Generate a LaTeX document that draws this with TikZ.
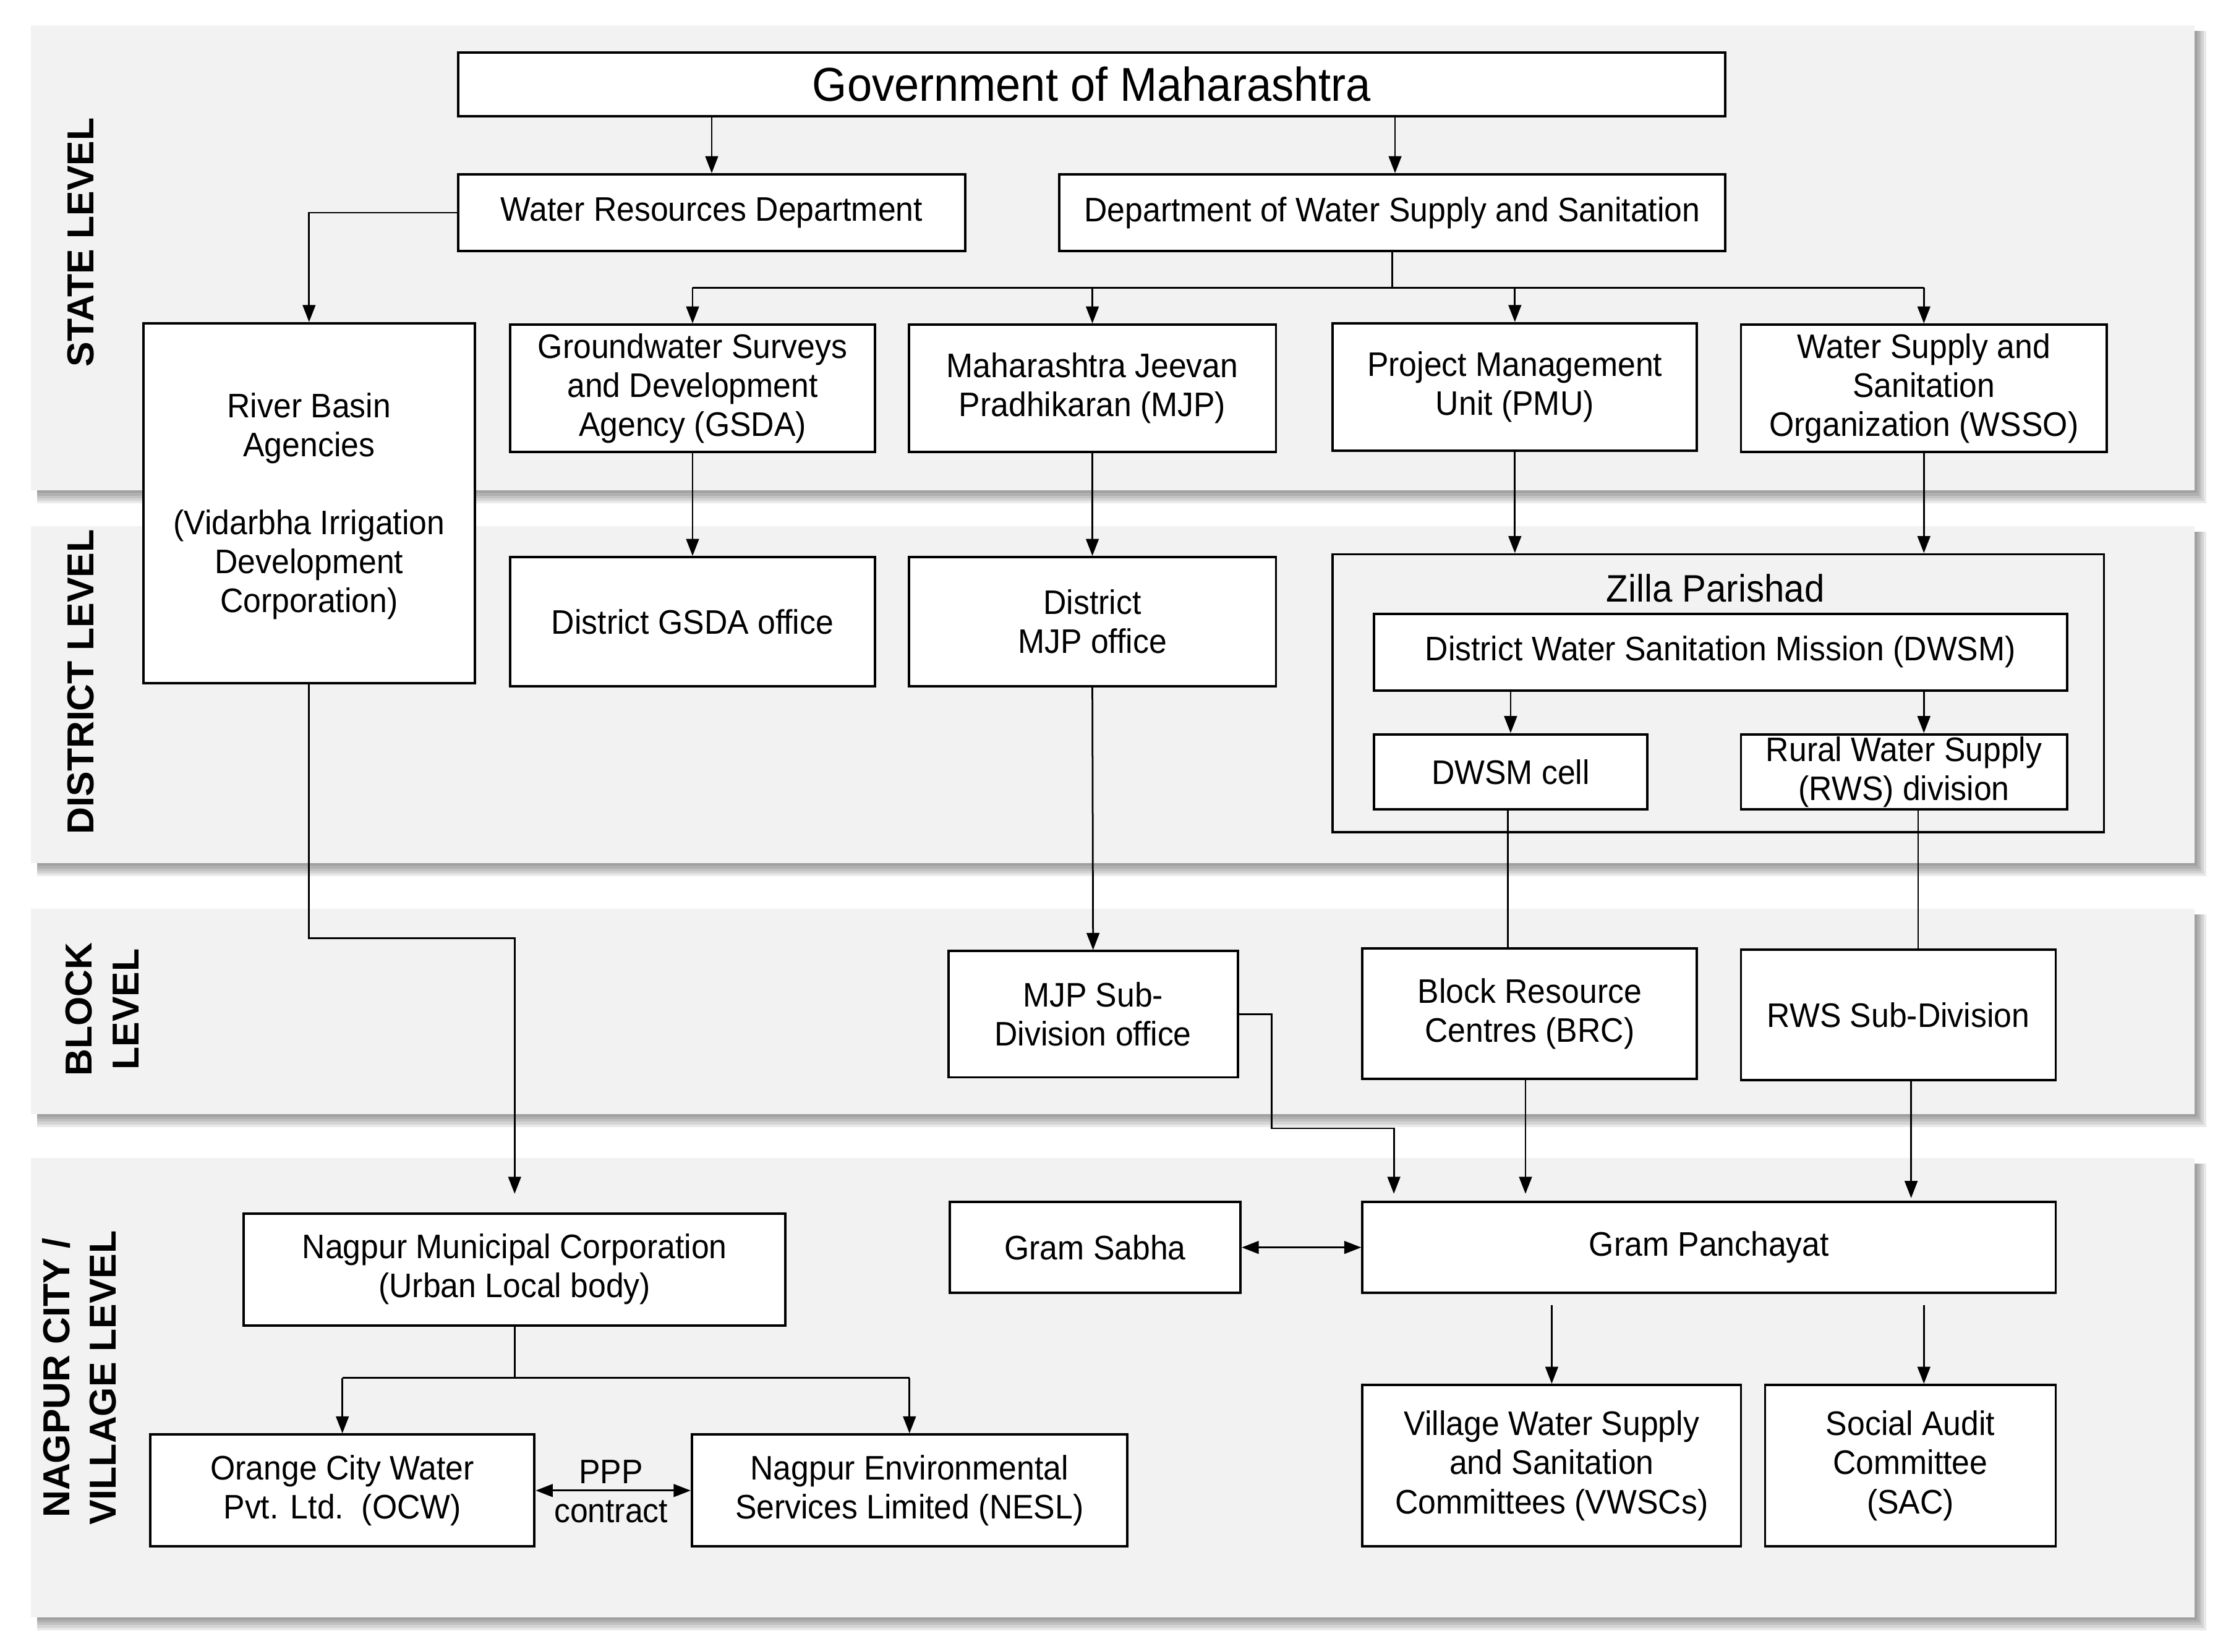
\documentclass[tikz,border=0pt]{standalone}
\usepackage{fontspec}
\setmainfont{Liberation Sans}[FakeStretch=0.94]
\newfontfamily\lblfont{Liberation Sans}
\usetikzlibrary{arrows.meta,calc}
\definecolor{bandgray}{HTML}{F2F2F2}
\tikzset{
  box/.style={draw=black, line width=1.7pt, fill=white, inner sep=0pt, align=center,
    font=\fontsize{24}{27.5}\selectfont},
  conn/.style={draw=black, line width=1.2pt},
  arr/.style={conn, -{Triangle[length=12pt,width=9pt]}},
  darr/.style={conn, {Triangle[length=12pt,width=9pt]}-{Triangle[length=12pt,width=9pt]}},
  lvl/.style={rotate=90, align=center, inner sep=0pt,
    font=\lblfont\bfseries\fontsize{26.5}{33}\selectfont},
  plain/.style={align=center, inner sep=0pt, font=\fontsize{24}{27.5}\selectfont}
}
\newcommand\myband[2]{%
  \foreach \k in {2,4,6,8,10}{\fill[black, opacity=0.085] (26,#1+4) rectangle (1548+\k*0.8,#2+\k*0.9);}
  \fill[bandgray] (22,#1) rectangle (1548,#2);
}
\begin{document}
\begin{tikzpicture}[x=1pt,y=-1pt]
\useasboundingbox (0,0) rectangle (1568,1165);
\fill[white] (0,0) rectangle (1568,1165);
% bands
\myband{18}{346}
\myband{371}{609}
\myband{641}{786}
\myband{817}{1141}
% level labels
\node[lvl] (lstate) at (57,171) {STATE LEVEL};
\node[lvl] (ldist) at (57,481) {DISTRICT LEVEL};
\node[lvl] (lblock) at (72,712) {BLOCK\\LEVEL};
\node[lvl] (lvill) at (56,972) {NAGPUR CITY /\\VILLAGE LEVEL};
% boxes
\node[box, minimum width=894pt, minimum height=45pt, font=\fontsize{33.5}{38}\selectfont] (gov) at (770,59.5) {Government of Maharashtra};
\node[box, minimum width=358pt, minimum height=54pt] (wrd) at (502,150) {Water Resources Department};
\node[box, minimum width=470pt, minimum height=54pt] (dwss) at (982,150) {Department of Water Supply and Sanitation};
\node[box, minimum width=234pt, minimum height=254pt] (rba) at (218,355) {};
\node[plain] (rbat) at (218,357) {River Basin\\Agencies\\[27.5pt](Vidarbha Irrigation\\Development\\Corporation)};
\node[box, minimum width=257pt, minimum height=90pt] (gsda) at (488.5,274) {Groundwater Surveys\\and Development\\Agency (GSDA)};
\node[box, minimum width=259pt, minimum height=90pt] (mjp) at (770.5,274) {Maharashtra Jeevan\\Pradhikaran (MJP)};
\node[box, minimum width=257pt, minimum height=90pt] (pmu) at (1068.5,273) {Project Management\\Unit (PMU)};
\node[box, minimum width=258pt, minimum height=90pt] (wsso) at (1357,274) {Water Supply and\\Sanitation\\Organization (WSSO)};
\node[box, minimum width=257pt, minimum height=91pt] (dgsda) at (488.5,438.5) {District GSDA office};
\node[box, minimum width=259pt, minimum height=91pt] (dmjp) at (770.5,438.5) {District\\MJP office};
\node[box, fill=none, minimum width=544pt, minimum height=196pt] (zp) at (1212,489) {};
\node[plain, font=\fontsize{27}{30}\selectfont] (zpl) at (1210,415) {Zilla Parishad};
\node[box, minimum width=489pt, minimum height=54pt] (dwsm) at (1213.5,460) {District Water Sanitation Mission (DWSM)};
\node[box, minimum width=193pt, minimum height=53pt] (dcell) at (1065.5,544.5) {DWSM cell};
\node[box, minimum width=230pt, minimum height=53pt] (rwsd) at (1343,544.5) {Rural Water Supply\\(RWS) division};
\node[box, minimum width=204pt, minimum height=89pt] (mjpsub) at (771,715.5) {MJP Sub-\\Division office};
\node[box, minimum width=236pt, minimum height=92pt] (brc) at (1079,715) {Block Resource\\Centres (BRC)};
\node[box, minimum width=222pt, minimum height=92pt] (rwssub) at (1339,716) {RWS Sub-Division};
\node[box, minimum width=205pt, minimum height=64pt] (gs) at (772.5,880) {Gram Sabha};
\node[box, minimum width=489pt, minimum height=64pt] (gp) at (1205.5,880) {Gram Panchayat};
\node[box, minimum width=382pt, minimum height=79pt] (nmc) at (363,895.5) {Nagpur Municipal Corporation\\(Urban Local body)};
\node[box, minimum width=271pt, minimum height=79pt] (ocw) at (241.5,1051.5) {Orange City Water\\Pvt. Ltd.\ \ (OCW)};
\node[box, minimum width=307pt, minimum height=79pt] (nesl) at (641.5,1051.5) {Nagpur Environmental\\Services Limited (NESL)};
\node[box, minimum width=267pt, minimum height=114pt] (vwsc) at (1094.5,1034) {Village Water Supply\\and Sanitation\\Committees (VWSCs)};
\node[box, minimum width=205pt, minimum height=114pt] (sac) at (1347.5,1034) {Social Audit\\Committee\\(SAC)};
\node[plain] (ppp) at (431,1052) {PPP\\contract};
% coordinates
\coordinate (f1) at (982,203);
\coordinate (rbk) at (218,662);
\coordinate (m1) at (897,796);
\coordinate (nf) at (363,972);
% connectors state level
\draw[arr] (wrd.north |- gov.south) -- (wrd.north);
\draw[arr] ([xshift=2pt]dwss.north |- gov.south) -- ([xshift=2pt]dwss.north);
\draw[arr] (wrd.west) -| (rba.north);
\draw[conn] (dwss.south) -- (f1);
\draw[conn] (gsda.north |- f1) -- (wsso.north |- f1);
\draw[arr] (gsda.north |- f1) -- (gsda.north);
\draw[arr] (mjp.north |- f1) -- (mjp.north);
\draw[arr] (pmu.north |- f1) -- (pmu.north);
\draw[arr] (wsso.north |- f1) -- (wsso.north);
% state to district
\draw[arr] (gsda.south) -- (dgsda.north);
\draw[arr] (mjp.south) -- (dmjp.north);
\draw[arr] (pmu.south) -- (pmu.south |- zp.north);
\draw[arr] (wsso.south) -- (wsso.south |- zp.north);
\draw[arr] (dcell.north |- dwsm.south) -- (dcell.north);
\draw[arr] (wsso.south |- dwsm.south) -- (wsso.south |- rwsd.north);
% district to block
\draw[arr] (dmjp.south) -- (mjpsub.north);
\draw[conn] ([xshift=-2pt]dcell.south) -- ([xshift=-2pt]dcell.south |- brc.north);
\draw[conn] ([xshift=10pt]rwsd.south) -- ([xshift=10pt]rwsd.south |- rwssub.north);
% river basin to NMC
\draw[arr, shorten >=13pt] (rba.south) -- (rbk) -| (nmc.north);
% block to village
\draw[arr, shorten >=5pt] (mjpsub.east) -| (m1) -| ($(gp.north west)+(23,0)$);
\draw[arr, shorten >=5pt] ([xshift=-3pt]brc.south) -- ([xshift=-3pt]brc.south |- gp.north);
\draw[arr, shorten >=2pt] ([xshift=9pt]rwssub.south) -- ([xshift=9pt]rwssub.south |- gp.north);
\draw[darr] (gs.east) -- (gp.west);
\draw[arr, shorten <=8pt] (vwsc.north |- gp.south) -- (vwsc.north);
\draw[arr, shorten <=8pt] ([xshift=9.5pt]sac.north |- gp.south) -- ([xshift=9.5pt]sac.north);
% NMC fork
\draw[conn] (nmc.south) -- (nf);
\draw[conn] (ocw.north |- nf) -- (nesl.north |- nf);
\draw[arr] (ocw.north |- nf) -- (ocw.north);
\draw[arr] (nesl.north |- nf) -- (nesl.north);
\draw[darr] (ocw.east) -- (nesl.west);
\end{tikzpicture}
\end{document}
